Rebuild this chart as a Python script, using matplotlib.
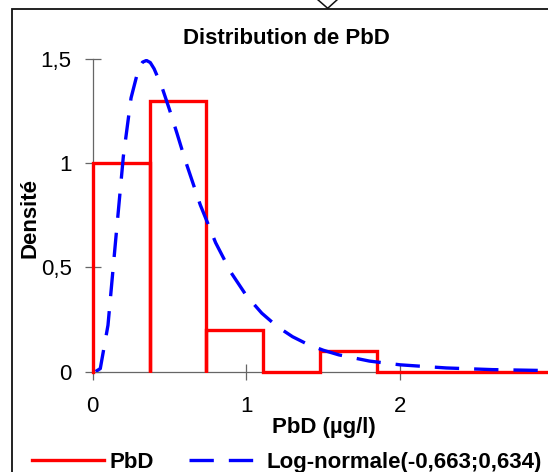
import matplotlib.pyplot as plt
from matplotlib.lines import Line2D
from matplotlib.patches import Rectangle

plt.rcParams['font.family'] = ['Liberation Sans', 'DejaVu Sans']

# histogram of PbD (density), bins of width 0.37
bin_left = [0.0, 0.37, 0.74, 1.11, 1.48, 1.85, 2.22, 2.59]
bin_width = 0.37
density = [1.0, 1.3, 0.2, 0.0, 0.1, 0.0, 0.0, 0.0]

# fitted log-normal curve
curve_x = [0.02, 0.05, 0.1, 0.15, 0.2, 0.25, 0.3, 0.325, 0.35, 0.375, 0.4, 0.45,
           0.5, 0.55, 0.6, 0.7, 0.8, 0.9, 1.0, 1.1, 1.2, 1.3, 1.4, 1.5, 1.6, 1.8,
           2.0, 2.3, 2.6, 3.0]
curve_y = [0.0, 0.014, 0.222, 0.631, 1.033, 1.313, 1.457, 1.485, 1.493, 1.483,
           1.453, 1.367, 1.257, 1.140, 1.019, 0.800, 0.618, 0.475, 0.364, 0.280,
           0.216, 0.167, 0.130, 0.102, 0.080, 0.050, 0.032, 0.017, 0.009, 0.004]

yticks = [0, 0.5, 1, 1.5]
ytick_labels = ['0', '0,5', '1', '1,5']
xticks = [0, 1, 2]
xtick_labels = ['0', '1', '2']

W, H = 548, 472
fig = plt.figure(figsize=(W / 100, H / 100), dpi=100)
fig.patch.set_facecolor('white')

def fx(px):
    return px / W

def fy(py):
    return 1 - py / H

# outer chart frame and the little callout triangle on top
fig.add_artist(Rectangle((fx(11.5), fy(490)), fx(600) - fx(11.5), fy(9.4) - fy(490),
                         transform=fig.transFigure, fill=False, edgecolor='#111111', lw=1.3))
fig.add_artist(Line2D([fx(317), fx(327.7), fx(338)], [fy(-1), fy(8.3), fy(-1)],
                      transform=fig.transFigure, color='#111111', lw=1.1))

ax = fig.add_axes([fx(92.6), fy(371.5), fx(554) - fx(92.6), fy(59) - fy(371.5)])
ax.set_xlim(0, 3)
ax.set_ylim(0, 1.5)

# histogram outline as Excel draws it: each bin drops back to zero
hx, hy = [], []
for left, h in zip(bin_left, density):
    right = left + bin_width
    hx += [left, left, right, right]
    hy += [0, h, h, 0]
hist_line, = ax.plot(hx, hy, color='#ff0000', lw=2.4, zorder=3,
                     solid_joinstyle='miter', clip_on=False)
curve_line, = ax.plot(curve_x, curve_y, color='#0000ff', lw=2.4,
                      linestyle=(0, (7.3, 4.5)), zorder=4)

for s in ['top', 'right']:
    ax.spines[s].set_visible(False)
for s in ['left', 'bottom']:
    ax.spines[s].set_color('#666666')
    ax.spines[s].set_linewidth(0.9)

ax.set_yticks(yticks)
ax.set_yticklabels(ytick_labels)
ax.set_xticks(xticks)
ax.set_xticklabels(xtick_labels)
ax.tick_params(axis='both', direction='inout', length=11, width=0.9,
               color='#666666', labelsize=16)
ax.tick_params(axis='y', pad=9.6)
ax.tick_params(axis='x', pad=12)

fig.text(fx(286.7), fy(38.4), 'Distribution de PbD', ha='center', va='center',
         fontsize=16, fontweight='bold')
fig.text(fx(324), fy(427), 'PbD (µg/l)', ha='center', va='center',
         fontsize=16, fontweight='bold')
fig.text(fx(30), fy(217.5), 'Densité', ha='center', va='center', rotation=90,
         fontsize=16, fontweight='bold')

fig.legend([hist_line, curve_line], ['PbD', 'Log-normale(-0,663;0,634)'],
           loc='center left', bbox_to_anchor=(fx(31.7), fy(462.7)), ncol=2,
           frameon=False, borderpad=0, borderaxespad=0, handlelength=3.25,
           handletextpad=0.24, columnspacing=1.6,
           prop={'size': 16, 'weight': 'bold'})

fig.savefig('out.png', dpi=100)
